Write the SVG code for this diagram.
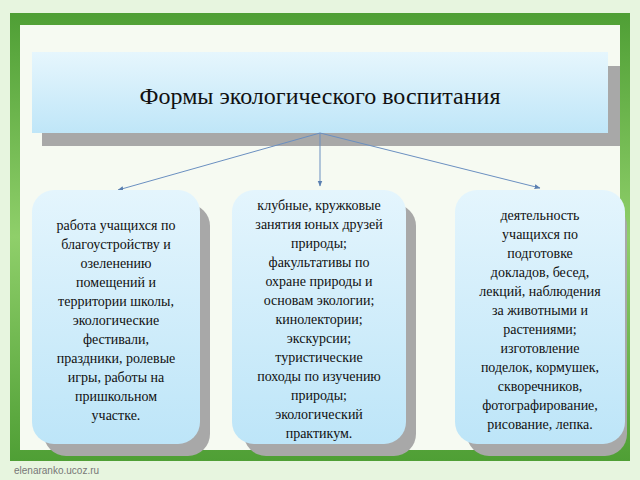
<svg xmlns="http://www.w3.org/2000/svg" width="640" height="480" viewBox="0 0 640 480">
<defs>
<linearGradient id="tg" x1="0" y1="0" x2="0" y2="1"><stop offset="0" stop-color="#e6f6fd"/><stop offset="1" stop-color="#bfe6f8"/></linearGradient>
<linearGradient id="bg" x1="0" y1="0" x2="0" y2="1"><stop offset="0" stop-color="#e4f5fd"/><stop offset="1" stop-color="#bde5f8"/></linearGradient>
<linearGradient id="fr" x1="0" y1="0" x2="0" y2="1"><stop offset="0" stop-color="#4f9f35"/><stop offset="0.5" stop-color="#8fcf6a"/><stop offset="1" stop-color="#4f9f35"/></linearGradient>
<marker id="ar" viewBox="0 0 10 10" refX="9" refY="5" markerWidth="6" markerHeight="6" orient="auto"><path d="M0,1 L10,5 L0,9 z" fill="#5a7fb0"/></marker>
</defs>
<style>
.sh{fill:#a8a8a8}
.bx{fill:url(#bg)}
.t{font-family:"Liberation Serif",serif;font-size:14px;fill:#111;text-anchor:middle}
.c{stroke:#6a8fc0;stroke-width:1;fill:none;marker-end:url(#ar)}
</style>
<rect width="640" height="480" fill="#e7f5df"/>
<rect x="10" y="13" width="620" height="448" fill="url(#fr)"/>
<rect x="20" y="25" width="600" height="425" fill="#f6faf2"/>
<g id="title">
<rect class="sh" x="42" y="66" width="578" height="80"/>
<rect x="32" y="52" width="576" height="81" fill="url(#tg)"/>
<text x="320" y="104" font-family="Liberation Serif,serif" font-size="24" text-anchor="middle" fill="#111">Формы экологического воспитания</text>
</g>
<g id="connectors">
<line class="c" x1="320" y1="133" x2="118" y2="190"/>
<line class="c" x1="320" y1="133" x2="320" y2="186"/>
<line class="c" x1="320" y1="133" x2="540" y2="188"/>
</g>
<g id="left">
<rect class="sh" x="44" y="204" width="166" height="252" rx="22"/>
<rect class="bx" x="32" y="190" width="168" height="254" rx="22"/>
<text class="t"><tspan x="116" y="230">работа учащихся по</tspan><tspan x="116" y="249">благоустройству и</tspan><tspan x="116" y="268">озеленению</tspan><tspan x="116" y="287">помещений и</tspan><tspan x="116" y="306">территории школы,</tspan><tspan x="116" y="325">экологические</tspan><tspan x="116" y="344">фестивали,</tspan><tspan x="116" y="363">праздники, ролевые</tspan><tspan x="116" y="382">игры, работы на</tspan><tspan x="116" y="401">пришкольном</tspan><tspan x="116" y="420">участке.</tspan></text>
</g>
<g id="middle">
<rect class="sh" x="244" y="204" width="172" height="252" rx="22"/>
<rect class="bx" x="232" y="190" width="174" height="254" rx="22"/>
<text class="t"><tspan x="319" y="210">клубные, кружковые</tspan><tspan x="319" y="229">занятия юных друзей</tspan><tspan x="319" y="248">природы;</tspan><tspan x="319" y="267">факультативы по</tspan><tspan x="319" y="286">охране природы и</tspan><tspan x="319" y="305">основам экологии;</tspan><tspan x="319" y="324">кинолектории;</tspan><tspan x="319" y="343">экскурсии;</tspan><tspan x="319" y="362">туристические</tspan><tspan x="319" y="381">походы по изучению</tspan><tspan x="319" y="400">природы;</tspan><tspan x="319" y="419">экологический</tspan><tspan x="319" y="438">практикум.</tspan></text>
</g>
<g id="right">
<rect class="sh" x="467" y="204" width="160" height="252" rx="22"/>
<rect class="bx" x="455" y="190" width="170" height="254" rx="22"/>
<text class="t"><tspan x="540" y="220">деятельность</tspan><tspan x="540" y="239">учащихся по</tspan><tspan x="540" y="258">подготовке</tspan><tspan x="540" y="277">докладов, бесед,</tspan><tspan x="540" y="296">лекций, наблюдения</tspan><tspan x="540" y="315">за животными и</tspan><tspan x="540" y="334">растениями;</tspan><tspan x="540" y="353">изготовление</tspan><tspan x="540" y="372">поделок, кормушек,</tspan><tspan x="540" y="391">скворечников,</tspan><tspan x="540" y="410">фотографирование,</tspan><tspan x="540" y="429">рисование, лепка.</tspan></text>
</g>
<text x="14" y="474" font-family="Liberation Sans,sans-serif" font-size="10" fill="#777">elenaranko.ucoz.ru</text>
</svg>
